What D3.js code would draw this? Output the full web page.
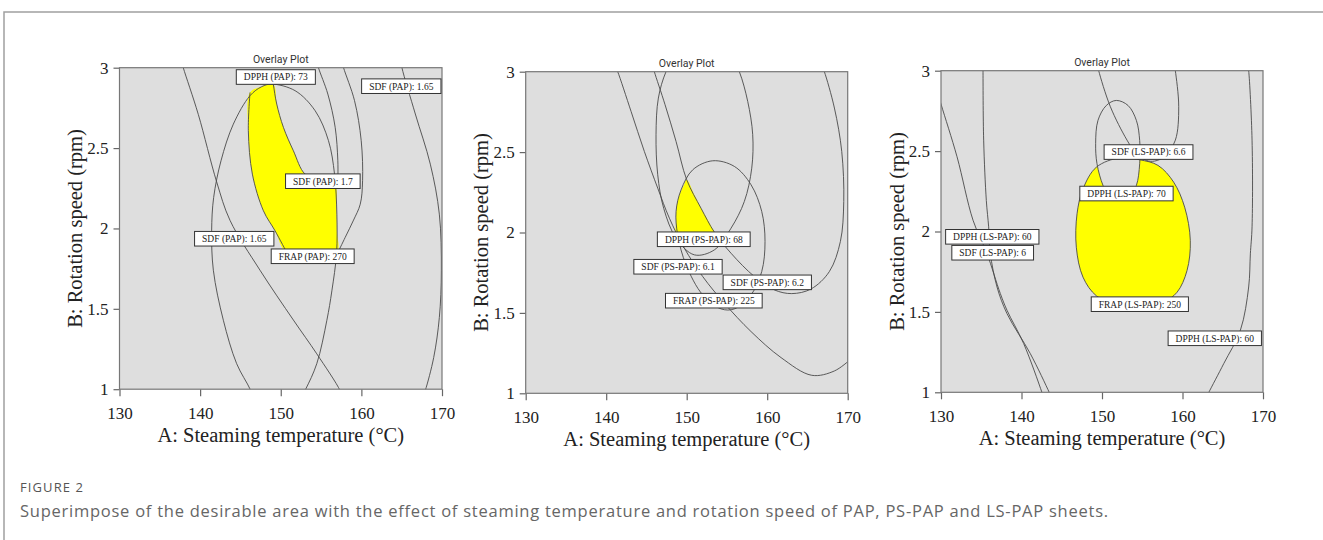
<!DOCTYPE html>
<html>
<head>
<meta charset="utf-8">
<script src="https://cdn.jsdelivr.net/npm/d3@7"></script>
<style>
body { margin: 0; background: #fff; }
svg { display: block; }
</style>
</head>
<body>
<svg id="fig" width="1323" height="540"></svg>
<script>

// axes
let xDomain = [130, 170];
let yDomain = [1, 3];
let xTicks = [130, 140, 150, 160, 170];
let yTicks = [1, 1.5, 2, 2.5, 3];

// PAP contours (A: temperature, B: speed)
let papSdf165Left = [[137.70, 3.04], [137.91, 3.00], [139.77, 2.71], [142.05, 2.29], [143.71, 2.05], [147.43, 1.74], [151.57, 1.43], [154.47, 1.22], [157.37, 0.99], [157.6, 0.95]];
let papFrap270 = [[148.88, 2.898], [151.78, 2.857], [154.27, 2.732], [155.92, 2.546], [156.67, 2.338], [156.96, 2.089], [156.92, 1.844], [156.34, 1.612], [155.72, 1.429], [154.47, 1.159], [153.02, 0.993], [151.16, 0.823], [148.88, 0.782], [147.23, 0.865], [146.27, 0.993], [144.53, 1.159], [142.88, 1.429], [141.64, 1.740], [141.43, 1.985], [141.68, 2.193], [142.59, 2.421], [144.12, 2.649], [146.19, 2.826], [147.64, 2.882]];
let papSdf17a = [[154.5, 3.04], [154.68, 3.00], [155.84, 2.836], [156.75, 2.629], [157.08, 2.421], [157.08, 2.276]];
let papSdf17b = [[157.6, 3.04], [157.79, 3.00], [159.15, 2.795], [159.98, 2.546], [160.15, 2.297], [159.86, 2.151], [159.03, 2.052], [157.99, 1.944], [157.08, 1.850]];
let papDpph73Right = [[148.97, 2.94], [149.09, 2.894], [149.50, 2.774], [150.33, 2.629], [151.57, 2.483], [153.02, 2.338], [155.0, 2.300], [156.7, 2.275]];
let papDpph73Left = [[146.19, 2.846], [145.98, 2.608], [146.48, 2.338], [147.85, 2.110], [149.30, 1.985], [150.75, 1.850]];
let papSdf165Right = [[164.9, 3.04], [165.03, 3.00], [166.69, 2.712], [168.55, 2.400], [169.67, 2.089], [169.92, 1.736], [169.67, 1.446], [168.97, 1.197], [167.93, 0.993], [167.6, 0.95]];
let papDesirable = [[146.19, 2.846], [147.64, 2.882], [149.09, 2.894], [149.50, 2.774], [150.33, 2.629], [151.57, 2.483], [153.02, 2.338], [155.0, 2.300], [156.7, 2.275], [156.9, 2.13], [156.96, 1.985], [156.92, 1.850], [150.75, 1.850], [149.30, 1.985], [147.85, 2.110], [146.48, 2.338], [145.98, 2.608]];
let papLabels = [
	['DPPH (PAP): 73', 149.39, 2.942],
	['SDF (PAP): 1.65', 164.95, 2.885],
	['SDF (PAP): 1.7', 155.22, 2.294],
	['SDF (PAP): 1.65', 144.23, 1.936],
	['FRAP (PAP): 270', 153.96, 1.827]
];

// PS-PAP contours
let psSdf61 = [[141.22, 3.023], [141.43, 3.00], [143.09, 2.753], [144.74, 2.504], [146.40, 2.276], [147.85, 2.089], [149.71, 1.902], [151.99, 1.726], [154.68, 1.560], [157.99, 1.384], [161.72, 1.222], [165.53, 1.112], [168.35, 1.139], [170.21, 1.205]];
let psSdf62 = [[145.86, 3.023], [145.98, 3.00], [147.31, 2.795], [148.68, 2.566], [150.00, 2.328], [151.78, 2.151], [153.44, 2.002], [155.51, 1.871], [158.41, 1.726], [160.89, 1.643], [163.05, 1.620], [165.45, 1.649], [167.72, 1.757], [169.09, 1.944], [169.51, 2.193], [169.26, 2.504], [168.35, 2.774], [167.10, 3.00], [166.90, 3.023]];
let psDpph68 = [[147.43, 3.00], [146.48, 2.836], [146.19, 2.608], [146.40, 2.359], [147.14, 2.151], [148.68, 1.965], [150.95, 1.861], [153.44, 1.892], [155.51, 2.027], [157.16, 2.193], [158.08, 2.400], [158.20, 2.608], [157.58, 2.815], [156.54, 3.00], [155.09, 3.147], [151.99, 3.210], [148.88, 3.127]];
let psFrap225 = [[153.23, 2.446], [155.92, 2.411], [157.99, 2.297], [159.32, 2.131], [159.73, 1.944], [159.32, 1.757], [157.99, 1.612], [155.92, 1.525], [154.27, 1.525], [151.99, 1.612], [149.92, 1.799], [148.88, 1.985], [148.68, 2.131], [149.30, 2.265], [150.75, 2.390]];
let psDesirable = [[150.00, 2.328], [150.95, 2.234], [151.78, 2.151], [152.61, 2.079], [153.44, 2.002], [153.65, 1.981], [148.80, 1.981], [148.68, 2.068], [148.72, 2.151], [149.09, 2.234], [149.63, 2.292]];
let psLabels = [
	['DPPH (PS-PAP): 68', 152.12, 1.958],
	['SDF (PS-PAP): 6.1', 148.92, 1.787],
	['SDF (PS-PAP): 6.2', 160.01, 1.690],
	['FRAP (PS-PAP): 225', 153.37, 1.576]
];

// LS-PAP contours
let lsDpph60Left = [[129.63, 2.857], [130.04, 2.786], [131.99, 2.465], [133.98, 2.070], [135.71, 1.863], [137.37, 1.614], [138.20, 1.510], [140.27, 1.303], [142.55, 0.998], [142.88, 0.948]];
let lsSdf6 = [[135.22, 3.023], [135.22, 3.00], [135.30, 2.568], [135.63, 2.193], [135.92, 2.029], [136.13, 1.863], [136.96, 1.655], [138.20, 1.489], [141.10, 1.240], [143.46, 0.998], [143.71, 0.969]];
let lsDpph60Right = [[168.14, 3.023], [168.22, 3.00], [168.64, 2.568], [168.64, 2.029], [168.43, 1.861], [168.22, 1.655], [167.19, 1.386], [165.12, 1.178], [163.25, 0.998], [162.96, 0.969]];
let lsSdf66 = [[149.50, 3.023], [149.59, 3.00], [151.04, 2.776], [153.11, 2.568], [154.27, 2.483], [155.51, 2.442], [156.54, 2.438], [157.79, 2.467], [159.11, 2.568], [159.53, 2.776], [159.11, 3.00], [159.03, 3.023]];
let lsDpph70 = [[151.78, 2.815], [153.23, 2.784], [154.27, 2.691], [154.68, 2.566], [154.68, 2.421], [154.27, 2.286], [153.44, 2.215], [152.20, 2.200], [150.95, 2.215], [150.13, 2.286], [149.38, 2.421], [149.21, 2.546], [149.50, 2.691], [150.54, 2.784]];
let lsFrap250 = [[152.20, 2.458], [154.68, 2.446], [156.96, 2.411], [158.90, 2.307], [160.27, 2.151], [160.97, 1.944], [160.56, 1.757], [159.32, 1.622], [157.58, 1.560], [154.68, 1.530], [151.78, 1.545], [149.30, 1.600], [147.64, 1.716], [146.81, 1.902], [146.90, 2.110], [147.64, 2.265], [149.30, 2.400]];
let lsLabels = [
	['SDF (LS-PAP): 6.6', 155.78, 2.494],
	['DPPH (LS-PAP): 70', 153.04, 2.236],
	['DPPH (LS-PAP): 60', 136.37, 1.967],
	['SDF (LS-PAP): 6', 136.42, 1.868],
	['FRAP (LS-PAP): 250', 154.70, 1.548],
	['DPPH (LS-PAP): 60', 164.01, 1.336]
];

let figTitle = 'FIGURE 2';
let figCaption = 'Superimpose of the desirable area with the effect of steaming temperature and rotation speed of PAP, PS-PAP and LS-PAP sheets.';

let bgGray = '#dedede';
let yellow = '#ffff00';

let panels = [
	{
		left: 119.5, top: 67.7, w: 322.5, h: 321.5,
		fills: [[papDesirable, yellow, true]],
		curves: [[papSdf165Left, false], [papFrap270, true], [papSdf17a, false], [papSdf17b, false],
			[papDpph73Right, false], [papDpph73Left, false], [papSdf165Right, false]],
		labels: papLabels
	},
	{
		left: 525.7, top: 71.7, w: 322, h: 321.6,
		fills: [[psDesirable, yellow, true]],
		curves: [[psSdf61, false], [psSdf62, false], [psDpph68, true], [psFrap225, true]],
		labels: psLabels
	},
	{
		left: 941, top: 70.7, w: 322, h: 321.6,
		fills: [[lsFrap250, yellow, true], [lsDpph70, bgGray, true]],
		curves: [[lsDpph60Left, false], [lsSdf6, false], [lsDpph60Right, false], [lsSdf66, false],
			[lsDpph70, true], [lsFrap250, true]],
		labels: lsLabels
	}
];

let svg = d3.select('#fig');

// frame of the figure box
svg.append('path')
	.attr('d', 'M4,540V12H1323')
	.attr('fill', 'none')
	.attr('stroke', '#a0a0a0')
	.attr('stroke-width', 1.5);

panels.forEach((p, idx) => drawPanel(p, idx));

svg.append('text')
	.attr('x', 20).attr('y', 492)
	.style('font-family', '"Open Sans", sans-serif')
	.style('font-size', '13px')
	.style('letter-spacing', '1.1px')
	.attr('fill', '#555')
	.text(figTitle);

svg.append('text')
	.attr('x', 20).attr('y', 517)
	.style('font-family', '"Open Sans", sans-serif')
	.style('font-size', '16.5px')
	.style('letter-spacing', '0.75px')
	.attr('fill', '#666')
	.text(figCaption);

function drawPanel(p, idx) {

	let x = d3.scaleLinear().domain(xDomain).range([p.left, p.left + p.w]);
	let y = d3.scaleLinear().domain(yDomain).range([p.top + p.h, p.top]);
	let g = svg.append('g');

	let clipId = `plot-clip-${idx}`;
	svg.append('clipPath').attr('id', clipId)
		.append('rect')
		.attr('x', p.left).attr('y', p.top)
		.attr('width', p.w).attr('height', p.h);

	g.append('rect')
		.attr('x', p.left).attr('y', p.top)
		.attr('width', p.w).attr('height', p.h)
		.attr('fill', bgGray);

	let openLine = d3.line()
		.x(d => x(d[0])).y(d => y(d[1]))
		.curve(d3.curveCatmullRom.alpha(0.5));
	let closedLine = d3.line()
		.x(d => x(d[0])).y(d => y(d[1]))
		.curve(d3.curveCatmullRomClosed.alpha(0.5));

	let plot = g.append('g').attr('clip-path', `url(#${clipId})`);

	// desirable area first, then the contour lines over it
	p.fills.forEach(f => {
		plot.append('path')
			.attr('d', (f[2] ? closedLine : openLine)(f[0]))
			.attr('fill', f[1])
			.attr('stroke', 'none');
	});
	p.curves.forEach(c => {
		plot.append('path')
			.attr('d', (c[1] ? closedLine : openLine)(c[0]))
			.attr('fill', 'none')
			.attr('stroke', '#4a4a4a')
			.attr('stroke-width', 0.9);
	});

	// axes
	let xAxis = g.append('g')
		.attr('transform', `translate(0,${p.top + p.h})`)
		.call(d3.axisBottom(x).tickValues(xTicks).tickSize(7).tickPadding(11).tickFormat(d => d));
	let yAxis = g.append('g')
		.attr('transform', `translate(${p.left},0)`)
		.call(d3.axisLeft(y).tickValues(yTicks).tickSize(6).tickPadding(5).tickFormat(d => d));
	[xAxis, yAxis].forEach(a => {
		a.select('.domain').remove();
		a.selectAll('.tick line').attr('stroke', '#666').attr('stroke-width', 1.2);
		a.selectAll('.tick text')
			.attr('fill', '#222')
			.style('font-family', '"Liberation Serif", "Times New Roman", serif')
			.style('font-size', '17px');
	});

	g.append('rect')
		.attr('x', p.left).attr('y', p.top)
		.attr('width', p.w).attr('height', p.h)
		.attr('fill', 'none')
		.attr('stroke', '#777')
		.attr('stroke-width', 1.2);

	// titles
	g.append('text')
		.attr('x', p.left + p.w / 2).attr('y', p.top - 5)
		.attr('text-anchor', 'middle')
		.style('font-family', 'Roboto, "Open Sans", sans-serif')
		.style('font-size', '10.5px')
		.attr('fill', '#333')
		.text('Overlay Plot');

	g.append('text')
		.attr('x', p.left + p.w / 2).attr('y', p.top + p.h + 53)
		.attr('text-anchor', 'middle')
		.style('font-family', '"Liberation Serif", "Times New Roman", serif')
		.style('font-size', '20.5px')
		.attr('fill', '#222')
		.text('A: Steaming temperature (°C)');

	g.append('text')
		.attr('transform', `translate(${p.left - 37.5},${p.top + p.h / 2}) rotate(-90)`)
		.attr('text-anchor', 'middle')
		.style('font-family', '"Liberation Serif", "Times New Roman", serif')
		.style('font-size', '20.5px')
		.attr('fill', '#222')
		.text('B: Rotation speed (rpm)');

	// contour labels
	p.labels.forEach(l => {
		let lg = g.append('g').attr('transform', `translate(${x(l[1])},${y(l[2])})`);
		let box = lg.append('rect');
		let t = lg.append('text')
			.attr('text-anchor', 'middle')
			.attr('dy', '0.35em')
			.style('font-family', '"Liberation Serif", "Times New Roman", serif')
			.style('font-size', '9.5px')
			.attr('fill', '#222')
			.text(l[0]);
		let tw = t.node().getComputedTextLength() + 15;
		box.attr('x', -tw / 2).attr('y', -7.3)
			.attr('width', tw).attr('height', 14.6)
			.attr('fill', '#fff')
			.attr('stroke', '#333')
			.attr('stroke-width', 1);
	});
}
</script>
</body>
</html>
